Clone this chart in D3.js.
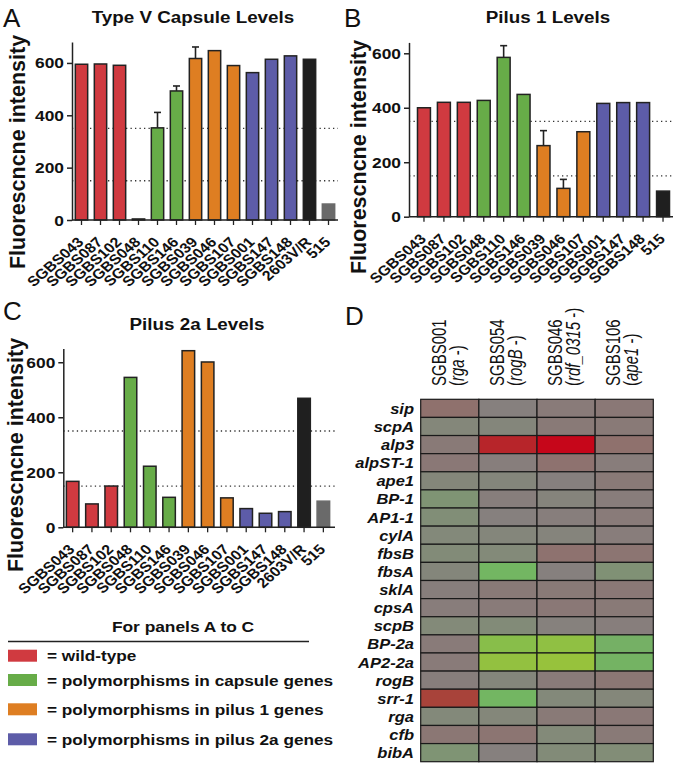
<!DOCTYPE html>
<html><head><meta charset="utf-8">
<script src="https://cdn.jsdelivr.net/npm/d3@7"></script>
<style>body{margin:0;background:#fff}svg{display:block}text{font-family:"Liberation Sans",Arial,sans-serif;fill:#111}</style>
</head><body><svg id="fig" width="677" height="764"></svg>
<script>
// ---------------- DATA ----------------
const strainsAC = ["SGBS043","SGBS087","SGBS102","SGBS048","SGBS110","SGBS146","SGBS039","SGBS046","SGBS107","SGBS001","SGBS147","SGBS148","2603V/R","515"];
const groupsAC  = ["wt","wt","wt","cap","cap","cap","p1","p1","p1","p2a","p2a","p2a","pos","neg"];
const capsuleValues = [595,596,591,4,352,493,617,647,590,563,614,627,614,61];
const capsuleErrors = [0,0,0,0,59,19,44,0,0,0,0,0,0,0];
const strainsB = ["SGBS043","SGBS087","SGBS102","SGBS048","SGBS110","SGBS146","SGBS039","SGBS046","SGBS107","SGBS001","SGBS147","SGBS148","515"];
const groupsB  = ["wt","wt","wt","cap","cap","cap","p1","p1","p1","p2a","p2a","p2a","pos"];
const pilus1Values = [400,420,420,427,585,449,261,104,312,416,419,419,94];
const pilus1Errors = [0,0,0,0,43,0,55,33,0,0,0,0,0];
const pilus2aValues = [167,85,150,545,222,109,642,601,107,68,51,57,469,95];
const yTicks = [0,200,400,600];
const thresholds = [150,350];
const legendLabels = ["= wild-type","= polymorphisms in capsule genes","= polymorphisms in pilus 1 genes","= polymorphisms in pilus 2a genes"];
const legendGroups = ["wt","cap","p1","p2a"];
const heatCols = [["SGBS001","rga"],["SGBS054","rogB"],["SGBS046","rdf_0315"],["SGBS106","ape1"]];
const genes = ["sip","scpA","alp3","alpST-1","ape1","BP-1","AP1-1","cylA","fbsB","fbsA","sklA","cpsA","scpB","BP-2a","AP2-2a","rogB","srr-1","rga","cfb","bibA"];
const heatValues = [
  [0.5,0.0,0.15,0.25],
  [-0.25,-0.2,0.2,0.2],
  [0.2,2.5,3.0,0.5],
  [0.25,0.05,0.45,0.1],
  [-0.25,-0.2,0.0,0.2],
  [-0.7,0.05,-0.15,0.1],
  [-0.5,0.0,0.05,0.15],
  [-0.3,-0.2,-0.15,0.1],
  [-0.4,-0.35,0.45,0.35],
  [-0.2,-1.9,0.0,-0.6],
  [0.05,0.2,0.2,0.25],
  [0.1,0.15,0.25,0.2],
  [-0.35,-0.4,-0.05,0.05],
  [0.15,-2.6,-2.8,-1.7],
  [0.15,-2.9,-3.0,-1.8],
  [0.05,-0.2,0.15,0.3],
  [2.0,-1.9,-0.3,-0.25],
  [-0.3,-0.25,0.2,0.25],
  [0.3,0.35,-0.35,0.2],
  [-0.7,0.0,-0.4,-0.45]
];
// ---------------- STYLE ----------------
const groupColor = {wt:"#d03a40",cap:"#67ac48",p1:"#de7e22",p2a:"#5d5ca8",pos:"#1f1f1f",neg:"#6a6a6a"};
const SX = 1.12;
const svg = d3.select("#fig");
svg.append("rect").attr("width",677).attr("height",764).attr("fill","#fff");

function txt(parent,x,y,s,o={}){
  const t = parent.append("text")
    .attr("transform",`translate(${x},${y}) scale(${o.sx||SX},1)`+(o.rot?` rotate(${o.rot})`:""))
    .attr("font-size",o.size||14).attr("font-weight",o.weight||"bold")
    .attr("text-anchor",o.anchor||"start");
  if(o.style) t.attr("font-style",o.style);
  t.text(s);
  return t;
}

function barPanel(cfg){
  const g = svg.append("g");
  const x = d3.scaleBand().domain(cfg.cats).range(cfg.xr).paddingInner(0.35).paddingOuter(0.175);
  const y = d3.scaleLinear().domain([0,cfg.ymax]).range(cfg.yr);
  const y0 = y(0), axX = cfg.axisX;
  g.selectAll(".thr").data(thresholds).join("line")
    .attr("x1",axX).attr("x2",cfg.xEnd).attr("y1",d=>y(d)).attr("y2",d=>y(d))
    .attr("stroke","#333").attr("stroke-width",1.3).attr("stroke-dasharray","1.3,3.2");
  cfg.vals.forEach((v,i)=>{
    const e = cfg.errs ? cfg.errs[i] : 0;
    if(e>0){
      const cx = x(cfg.cats[i])+x.bandwidth()/2;
      g.append("line").attr("x1",cx).attr("x2",cx).attr("y1",y(v)).attr("y2",y(v+e)).attr("stroke","#222").attr("stroke-width",1.6);
      g.append("line").attr("x1",cx-3.5).attr("x2",cx+3.5).attr("y1",y(v+e)).attr("y2",y(v+e)).attr("stroke","#222").attr("stroke-width",1.6);
    }
  });
  g.selectAll(".bar").data(cfg.vals).join("rect")
    .attr("x",(d,i)=>x(cfg.cats[i])).attr("width",x.bandwidth())
    .attr("y",d=>y(d)).attr("height",d=>y0-y(d))
    .attr("fill",(d,i)=>groupColor[cfg.groups[i]])
    .attr("stroke",(d,i)=>{const gr=cfg.groups[i];return gr==="neg"?groupColor.neg:"#222";})
    .attr("stroke-width",1.5);
  const ya = g.append("g").attr("transform",`translate(${axX},0)`)
    .call(d3.axisLeft(y).tickValues(yTicks).tickSize(5).tickSizeOuter(0).tickFormat(d3.format("d")));
  ya.select(".domain").attr("stroke","#222").attr("stroke-width",1.5);
  ya.selectAll(".tick line").attr("stroke","#222").attr("stroke-width",1.5);
  ya.selectAll(".tick text").remove();
  yTicks.forEach(t=>txt(g,axX-8,y(t)+5.5,String(t),{size:15.5,anchor:"end"}));
  g.append("line").attr("x1",axX).attr("x2",cfg.xEnd).attr("y1",y0).attr("y2",y0).attr("stroke","#222").attr("stroke-width",1.5);
  cfg.cats.forEach(c=>{
    const cx = x(c)+x.bandwidth()/2;
    g.append("line").attr("x1",cx).attr("x2",cx).attr("y1",y0).attr("y2",y0+5).attr("stroke","#222").attr("stroke-width",1.3);
    txt(g,cx+3,y0+23,c,{size:14,anchor:"end",rot:-45,sx:1.14});
  });
  txt(g,cfg.titleX,cfg.titleY,cfg.title,{size:16.8,anchor:"middle"});
  txt(g,cfg.letterX,cfg.letterY,cfg.letter,{size:26,weight:"normal",sx:1});
  txt(g,cfg.ylabX,cfg.ylabY,"Fluorescncne intensity",{size:21.5,anchor:"middle",rot:-90,sx:1.0});
}

barPanel({cats:strainsAC,groups:groupsAC,vals:capsuleValues,errs:capsuleErrors,xr:[72,338],xEnd:338,axisX:72,
  ymax:680,yr:[220,42],title:"Type V Capsule Levels",titleX:193,titleY:23,letter:"A",letterX:3,letterY:27,ylabX:25,ylabY:152});
barPanel({cats:strainsB,groups:groupsB,vals:pilus1Values,errs:pilus1Errors,xr:[414,673],xEnd:673,axisX:409,
  ymax:640,yr:[216.7,42.4],title:"Pilus 1 Levels",titleX:548,titleY:23,letter:"B",letterX:344,letterY:27,ylabX:366,ylabY:157});
barPanel({cats:strainsAC,groups:groupsAC,vals:pilus2aValues,errs:null,xr:[63,333],xEnd:335,axisX:63.3,
  ymax:650,yr:[527.3,348.5],title:"Pilus 2a Levels",titleX:197,titleY:330,letter:"C",letterX:3,letterY:320,ylabX:23,ylabY:455});

// ---------------- LEGEND ----------------
const lg = svg.append("g");
txt(lg,183,632,"For panels A to C",{size:15.5,anchor:"middle"});
lg.append("line").attr("x1",8).attr("x2",309).attr("y1",641.5).attr("y2",641.5).attr("stroke","#222").attr("stroke-width",1.3);
const legYs = [655.7,680,709.3,739.3];
legendGroups.forEach((gname,i)=>{
  const cy = legYs[i];
  lg.append("rect").attr("x",8).attr("y",cy-6).attr("width",29).attr("height",12).attr("fill",groupColor[gname]);
  txt(lg,47,cy+5.5,legendLabels[i],{size:15.5,sx:1.11});
});

// ---------------- HEATMAP ----------------
const hg = svg.append("g");
const hx = d3.scaleBand().domain(heatCols.map(d=>d[0])).range([420.7,653.3]);
const hy = d3.scaleBand().domain(genes).range([399.3,761.7]);
const heatColor = d3.scaleLinear().domain([-3,-2,0,2,3])
  .range(["#97c23c","#72b960","#86807e","#a8433a","#c6061a"]).interpolate(d3.interpolateRgb);
genes.forEach((gn,r)=>{
  heatCols.forEach((c,ci)=>{
    hg.append("rect").attr("x",hx(c[0])).attr("y",hy(gn)).attr("width",hx.bandwidth()).attr("height",hy.bandwidth())
      .attr("fill",heatColor(heatValues[r][ci])).attr("stroke","#1a1a1a").attr("stroke-width",1.2);
  });
  txt(hg,414,hy(gn)+hy.bandwidth()/2+5.5,gn,{size:15,anchor:"end",style:"italic",sx:1.1});
});
heatCols.forEach(c=>{
  const cx = hx(c[0])+hx.bandwidth()/2;
  txt(hg,cx-4,386,c[0],{size:15,weight:"normal",rot:-90,sx:1.3});
  const t = hg.append("text").attr("transform",`translate(${cx+14},386) scale(1.3,1) rotate(-90)`)
    .attr("font-size",15).attr("font-weight","normal");
  t.append("tspan").text("(");
  t.append("tspan").attr("font-style","italic").text(c[1]);
  t.append("tspan").text(" -)");
});
txt(hg,345,325,"D",{size:26,weight:"normal",sx:1});
</script></body></html>
